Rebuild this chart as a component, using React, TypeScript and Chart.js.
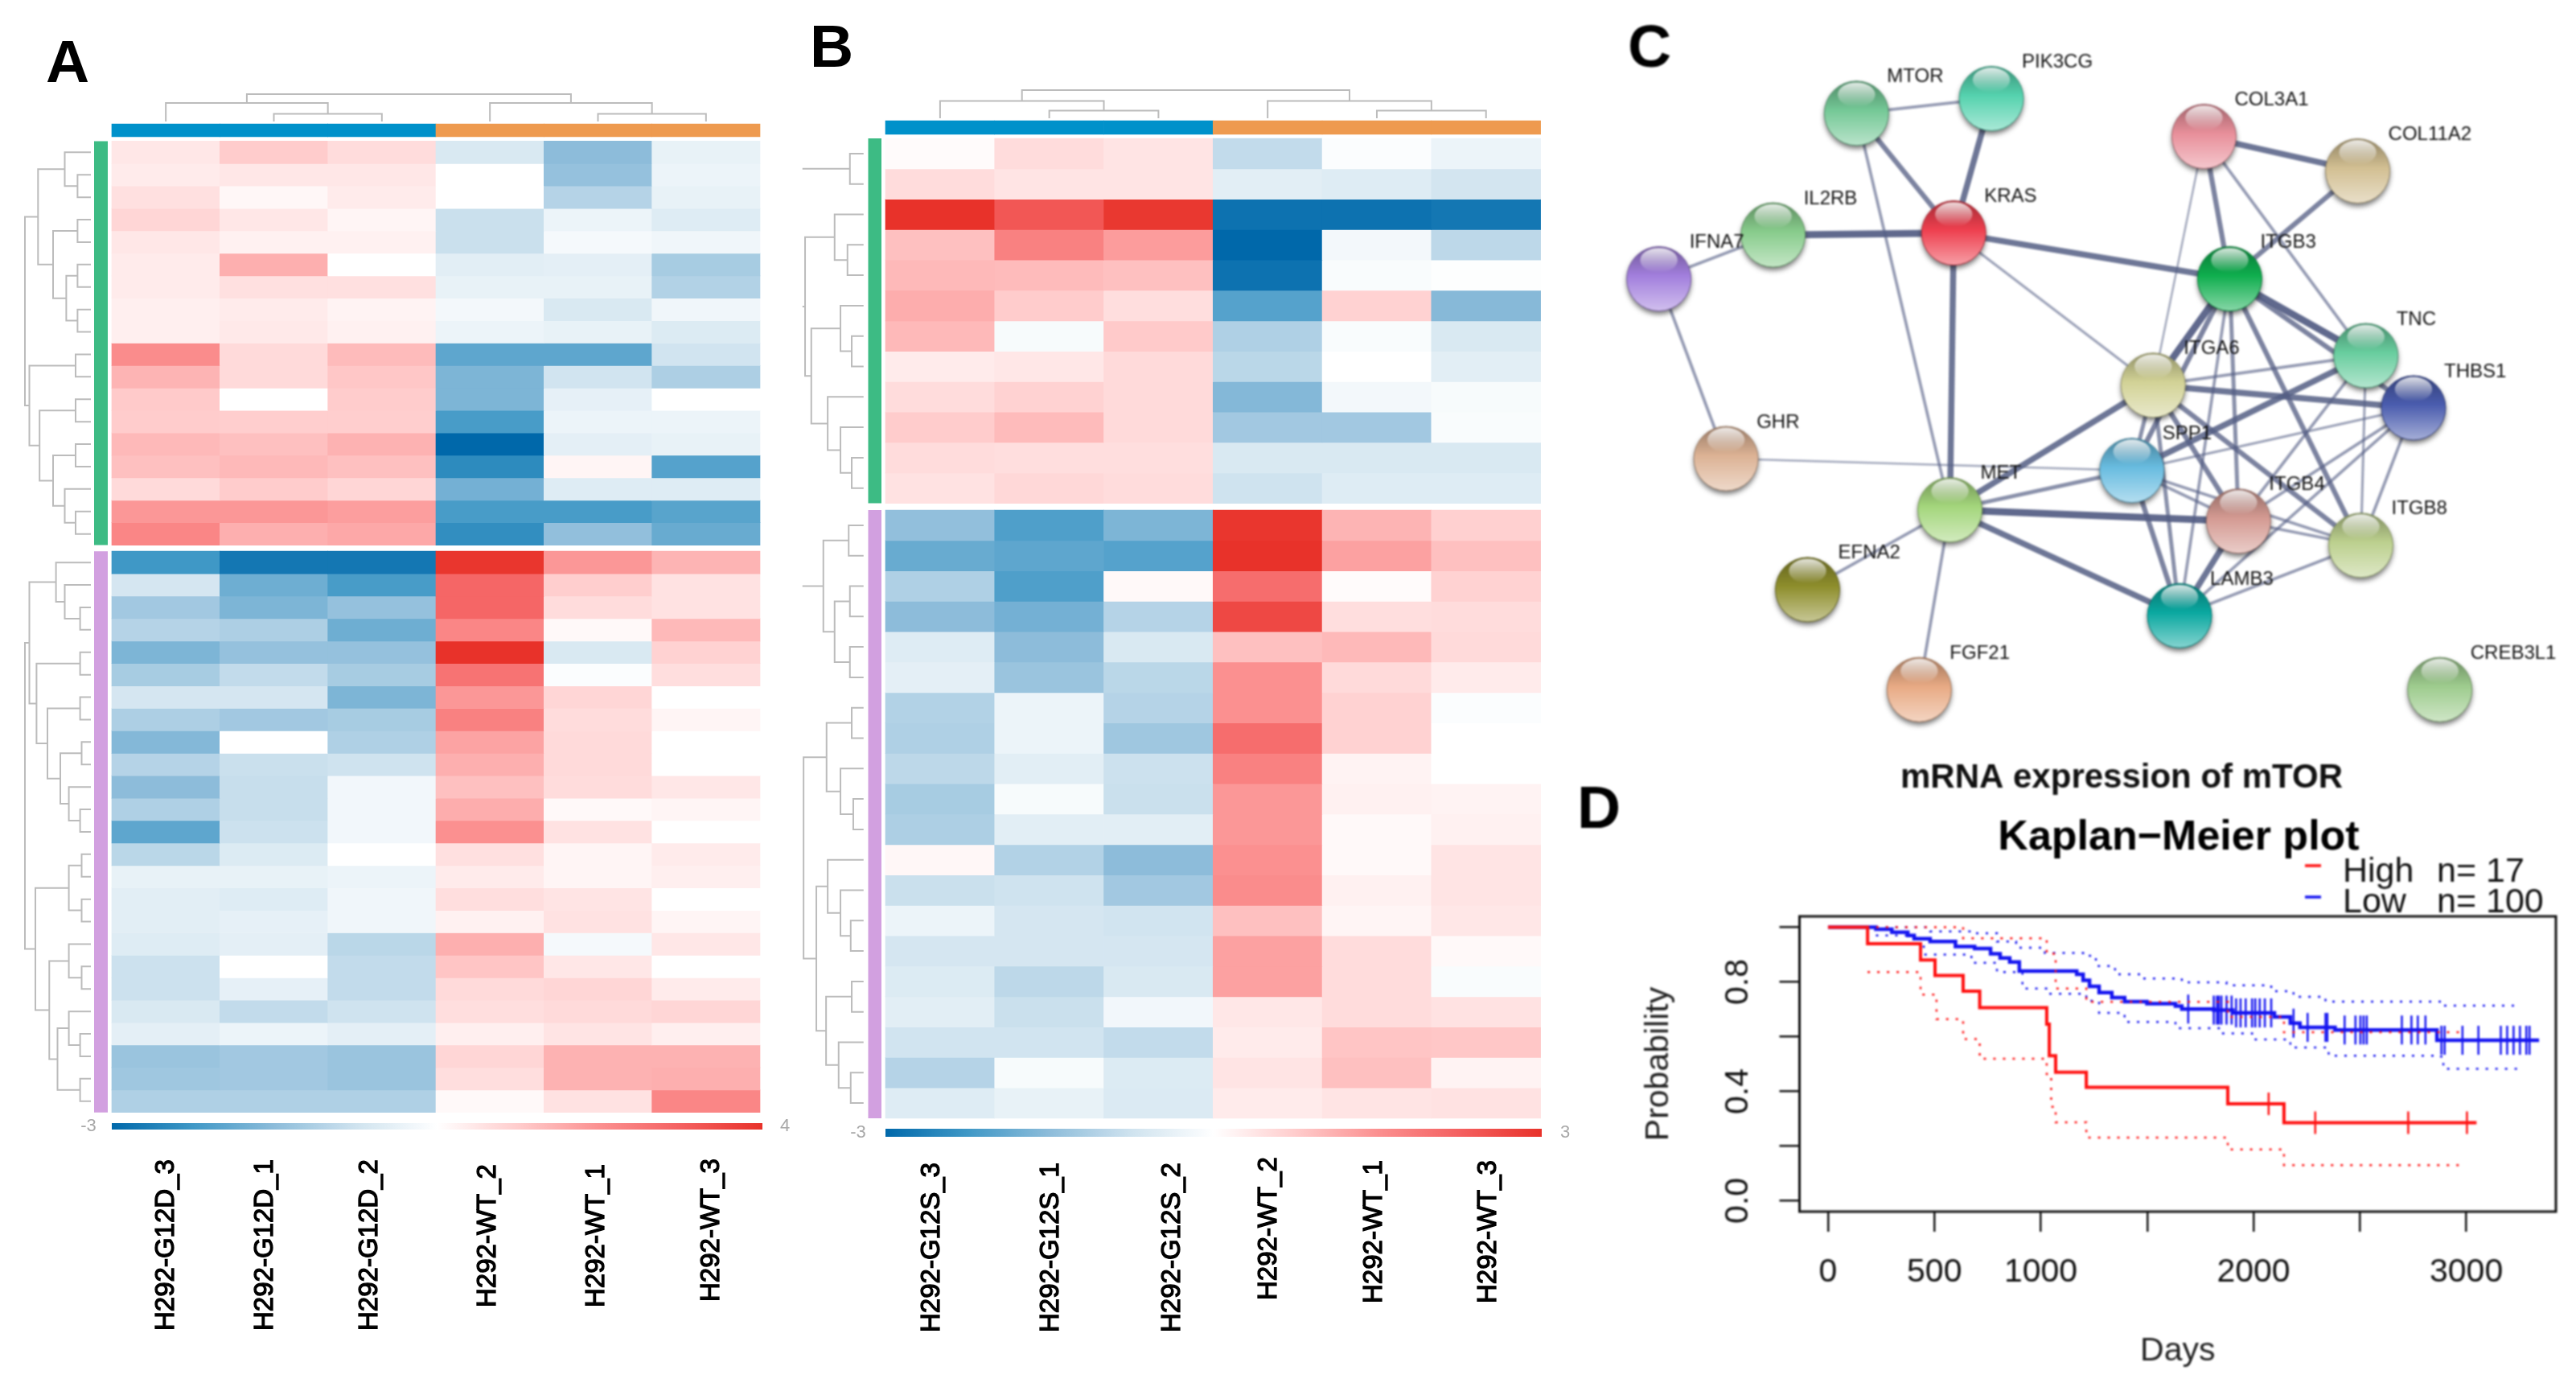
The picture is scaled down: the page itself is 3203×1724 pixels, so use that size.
import React, { useEffect, useRef } from "react";
import { Chart, registerables } from "chart.js";

Chart.register(...registerables);

const FONT = "'Liberation Sans', Arial, sans-serif";
const PAGE_W = 3203;
const PAGE_H = 1724;

// ---------- Panel A data (colour position, -1 deep blue ... 1 deep red) ----------
const columnsA = ["H292-G12D_3", "H292-G12D_1", "H292-G12D_2", "H292-WT_2", "H292-WT_1", "H292-WT_3"];
const rowsATop = [
  [0.12, 0.25, 0.17, -0.2, -0.5, -0.12],
  [0.1, 0.12, 0.12, 0, -0.47, -0.1],
  [0.15, 0.04, 0.1, 0, -0.35, -0.12],
  [0.2, 0.12, 0.05, -0.27, -0.1, -0.17],
  [0.12, 0.07, 0.07, -0.27, -0.05, -0.08],
  [0.1, 0.37, 0, -0.15, -0.14, -0.4],
  [0.1, 0.15, 0.15, -0.12, -0.12, -0.36],
  [0.08, 0.1, 0.06, -0.06, -0.2, -0.08],
  [0.08, 0.11, 0.07, -0.1, -0.12, -0.18],
  [0.52, 0.18, 0.32, -0.65, -0.65, -0.24],
  [0.35, 0.18, 0.27, -0.55, -0.24, -0.38],
  [0.26, 0, 0.25, -0.55, -0.13, 0],
  [0.25, 0.24, 0.24, -0.72, -0.1, -0.1],
  [0.33, 0.3, 0.36, -1, -0.14, -0.12],
  [0.3, 0.33, 0.3, -0.82, 0.05, -0.68],
  [0.18, 0.25, 0.2, -0.58, -0.17, -0.17],
  [0.47, 0.47, 0.44, -0.72, -0.72, -0.67],
  [0.55, 0.37, 0.4, -0.8, -0.48, -0.62],
];
const rowsABottom = [
  [-0.75, -0.92, -0.92, 0.98, 0.47, 0.35],
  [-0.22, -0.6, -0.72, 0.72, 0.24, 0.14],
  [-0.42, -0.55, -0.47, 0.72, 0.17, 0.14],
  [-0.35, -0.38, -0.6, 0.55, 0.03, 0.33],
  [-0.55, -0.47, -0.47, 1, -0.2, 0.22],
  [-0.4, -0.3, -0.4, 0.65, -0.02, 0.16],
  [-0.22, -0.22, -0.55, 0.47, 0.2, 0],
  [-0.38, -0.42, -0.4, 0.58, 0.17, 0.05],
  [-0.53, 0, -0.37, 0.42, 0.18, 0],
  [-0.35, -0.27, -0.25, 0.37, 0.18, 0],
  [-0.5, -0.28, -0.07, 0.3, 0.17, 0.12],
  [-0.37, -0.28, -0.07, 0.38, 0.03, 0.05],
  [-0.65, -0.26, -0.07, 0.5, 0.14, 0],
  [-0.33, -0.18, 0, 0.15, 0.05, 0.1],
  [-0.12, -0.12, -0.1, 0.1, 0.05, 0.08],
  [-0.15, -0.17, -0.08, 0.16, 0.13, 0],
  [-0.15, -0.13, -0.08, 0.07, 0.14, 0.05],
  [-0.17, -0.14, -0.33, 0.37, -0.05, 0.12],
  [-0.26, 0, -0.3, 0.28, 0.12, 0],
  [-0.26, -0.13, -0.3, 0.18, 0.2, 0.1],
  [-0.2, -0.3, -0.25, 0.16, 0.18, 0.2],
  [-0.14, -0.1, -0.14, 0.08, 0.13, 0.08],
  [-0.45, -0.42, -0.45, 0.2, 0.36, 0.36],
  [-0.43, -0.42, -0.45, 0.16, 0.36, 0.37],
  [-0.37, -0.37, -0.37, 0.03, 0.14, 0.55],
];
// dendrograms: [height, childA, childB]; a leaf is a row number within its block
const treeATop = [82,
  [65.7, [32.5, 1, [16.6, 2, 3]], [47, [16.6, 4, 5], [30.6, [16.6, 6, 7], [16.6, 8, 9]]]],
  [76.5, [19, 10, 11], [63.8, [19, 12, 13], [47, [19, 14, 15], [32.5, 16, [19, 17, 18]]]]],
];
const treeABottom = [82,
  [76.5, [43.4, 1, [32.5, 2, [13.4, 3, 4]]], [67.6, [13.4, 5, 6], [54, [13.4, 7, 8], [38, [11.5, 9, 10], [27.4, 11, [13.4, 12, 13]]]]]],
  [69, [27.4, [11.5, 14, 15], [11.5, 16, 17]], [51.7, [27.4, 18, [11.5, 19, 20]], [41.5, [27.4, 21, [13.4, 22, 23]], [13.4, 24, 25]]]],
];
const treeAColumns = [34, [23, 0.5, [9.5, 1.5, 2.5]], [23, 3.5, [9.5, 4.5, 5.5]]];

// ---------- Panel B data ----------
const columnsB = ["H292-G12S_3", "H292-G12S_1", "H292-G12S_2", "H292-WT_2", "H292-WT_1", "H292-WT_3"];
const rowsBTop = [
  [0.02, 0.17, 0.13, -0.3, -0.02, -0.1],
  [0.17, 0.13, 0.13, -0.15, -0.17, -0.23],
  [1, 0.8, 0.97, -0.95, -0.95, -0.92],
  [0.3, 0.58, 0.45, -1, -0.06, -0.32],
  [0.33, 0.32, 0.3, -0.95, -0.03, -0.01],
  [0.38, 0.25, 0.16, -0.68, 0.22, -0.52],
  [0.33, -0.04, 0.26, -0.37, -0.03, -0.2],
  [0.1, 0.12, 0.18, -0.33, 0, -0.15],
  [0.17, 0.22, 0.18, -0.53, -0.06, -0.04],
  [0.25, 0.32, 0.18, -0.42, -0.42, -0.03],
  [0.17, 0.16, 0.16, -0.2, -0.2, -0.2],
  [0.14, 0.19, 0.17, -0.25, -0.17, -0.17],
];
const rowsBBottom = [
  [-0.48, -0.7, -0.55, 0.98, 0.35, 0.23],
  [-0.62, -0.65, -0.68, 1, 0.43, 0.3],
  [-0.37, -0.7, 0.03, 0.68, 0.02, 0.22],
  [-0.5, -0.58, -0.35, 0.88, 0.16, 0.17],
  [-0.17, -0.5, -0.2, 0.3, 0.33, 0.18],
  [-0.14, -0.45, -0.33, 0.5, 0.18, 0.1],
  [-0.36, -0.1, -0.35, 0.5, 0.22, -0.02],
  [-0.37, -0.1, -0.43, 0.68, 0.22, 0],
  [-0.32, -0.15, -0.26, 0.58, 0.06, 0],
  [-0.4, -0.04, -0.27, 0.47, 0.07, 0.06],
  [-0.38, -0.15, -0.15, 0.47, 0.03, 0.07],
  [0.04, -0.36, -0.5, 0.5, 0.03, 0.13],
  [-0.27, -0.25, -0.42, 0.52, 0.07, 0.13],
  [-0.1, -0.22, -0.24, 0.3, 0.05, 0.12],
  [-0.22, -0.22, -0.22, 0.43, 0.17, 0.03],
  [-0.18, -0.32, -0.2, 0.43, 0.17, -0.03],
  [-0.15, -0.27, -0.07, 0.12, 0.17, 0.14],
  [-0.24, -0.24, -0.3, 0.1, 0.28, 0.27],
  [-0.35, -0.04, -0.18, 0.13, 0.3, 0.06],
  [-0.17, -0.12, -0.19, 0.1, 0.13, 0.14],
];
const treesBTop = [
  [76, [17, 1, 2]],
  [76, [72.7, [36, 3, [20, 4, 5]], [65, [28.7, 6, [14.7, 7, 8]], [44.6, 9, [28.7, 10, [14.7, 11, 12]]]]]],
];
const treesBBottom = [
  [76, [50, [18.5, 1, 2], [36, [17, 3, 4], [17, 5, 6]]]],
  [74.6, [46, [14.7, 7, 8], [28.7, 9, [12.8, 10, 11]]], [58.7, [44.6, 12, [28.7, 13, [16, 14, 15]]], [46.6, [14.7, 16, 17], [31, 18, [16, 19, 20]]]]],
];
const treeBColumns = [35, [21.5, 0.5, [9.5, 1.5, 2.5]], [21.5, 3.5, [9.5, 4.5, 5.5]]];

// ---------- Panel C data (network layout units) ----------
const geneNames = ["MTOR", "PIK3CG", "COL3A1", "COL11A2", "IL2RB", "KRAS", "IFNA7", "ITGB3", "TNC", "ITGA6", "THBS1", "GHR", "SPP1", "MET", "ITGB4", "ITGB8", "EFNA2", "LAMB3", "FGF21", "CREB3L1"];
const geneX = [421, 636, 975, 1220, 288, 576, 106, 1016, 1233, 894, 1309, 213, 860, 570, 1030, 1225, 343, 936, 521, 1351];
const geneY = [230, 200, 277, 347, 477, 473, 566, 566, 722, 782, 828, 931, 955, 1035, 1058, 1107, 1197, 1250, 1400, 1400];
const geneColours = ["#74c896", "#55d2ae", "#e88f9a", "#d2bf92", "#88cc8c", "#ee3f4e", "#a27fdd", "#0fae4e", "#68cd9e", "#d2d296", "#4a5cae", "#dcb294", "#68bce0", "#a4d67c", "#d49a92", "#bcd08e", "#8e8e2c", "#0aa8a0", "#e8aa84", "#9ecc8e"];
const linkFrom = ["MTOR", "MTOR", "PIK3CG", "MTOR", "IL2RB", "IL2RB", "KRAS", "KRAS", "KRAS", "IFNA7", "GHR", "COL3A1", "COL3A1", "COL3A1", "COL3A1", "COL11A2", "ITGB3", "ITGB3", "ITGB3", "ITGB3", "ITGB3", "ITGB3", "ITGB3", "TNC", "TNC", "TNC", "TNC", "ITGA6", "ITGA6", "ITGA6", "ITGA6", "ITGA6", "ITGA6", "THBS1", "THBS1", "THBS1", "THBS1", "SPP1", "SPP1", "SPP1", "SPP1", "MET", "MET", "MET", "MET", "ITGB4", "ITGB4", "ITGB8"];
const linkTo = ["PIK3CG", "KRAS", "KRAS", "MET", "KRAS", "IFNA7", "MET", "ITGB3", "ITGA6", "GHR", "SPP1", "COL11A2", "ITGB3", "ITGA6", "TNC", "ITGB3", "TNC", "THBS1", "ITGA6", "SPP1", "ITGB4", "ITGB8", "LAMB3", "ITGA6", "SPP1", "ITGB4", "ITGB8", "THBS1", "MET", "SPP1", "ITGB4", "ITGB8", "LAMB3", "SPP1", "ITGB4", "ITGB8", "LAMB3", "MET", "ITGB4", "ITGB8", "LAMB3", "ITGB4", "LAMB3", "EFNA2", "FGF21", "ITGB8", "LAMB3", "LAMB3"];
const linkScore = [3, 5, 6, 3, 7, 3, 6, 6, 2.5, 3, 2, 6, 5, 2, 3, 5, 7, 5, 7, 5, 4, 5, 3, 3, 6, 3, 2.5, 6, 6, 4, 5, 5, 4, 2.5, 3, 3, 3, 4, 3, 3, 5, 7, 6, 3, 3, 3, 6, 3];

// ---------- Panel D data ----------
const kmHighDays = [0, 186, 435, 503, 635, 713, 1028, 1040, 1070, 1214, 1879, 2143, 3048];
const kmHighProb = [1, 0.94, 0.88, 0.824, 0.766, 0.706, 0.646, 0.53, 0.47, 0.415, 0.354, 0.285, 0.285];
const kmHighUpperDays = [0, 635, 1028, 1070, 1214, 1879, 2143, 2985];
const kmHighUpperProb = [1, 0.96, 0.903, 0.776, 0.727, 0.672, 0.616, 0.616];
const kmHighLowerDays = [186, 435, 510, 635, 713, 1028, 1049, 1070, 1214, 1879, 2143, 2997];
const kmHighLowerProb = [0.836, 0.754, 0.664, 0.591, 0.519, 0.463, 0.343, 0.287, 0.231, 0.187, 0.13, 0.13];
const kmHighCensored = [2071, 2290, 2727, 3003];
const kmLowDays = [0, 225, 300, 375, 405, 480, 599, 689, 764, 809, 854, 899, 1169, 1199, 1229, 1274, 1334, 1394, 1499, 1633, 1663, 1813, 1903, 2098, 2173, 2218, 2383, 2862, 3342];
const kmLowProb = [1, 0.993, 0.982, 0.97, 0.958, 0.948, 0.93, 0.922, 0.903, 0.888, 0.873, 0.84, 0.828, 0.806, 0.784, 0.761, 0.743, 0.728, 0.721, 0.712, 0.701, 0.697, 0.687, 0.672, 0.649, 0.634, 0.624, 0.587, 0.587];
const kmLowUpperDays = [225, 480, 689, 794, 884, 1019, 1199, 1259, 1349, 1469, 1663, 1873, 2083, 2188, 2338, 2862, 2892, 3252];
const kmLowUpperProb = [1, 0.985, 0.978, 0.948, 0.925, 0.906, 0.896, 0.858, 0.828, 0.813, 0.799, 0.788, 0.766, 0.746, 0.728, 0.728, 0.713, 0.713];
const kmLowLowerDays = [225, 405, 450, 674, 794, 914, 1034, 1214, 1274, 1394, 1633, 1843, 1993, 2173, 2353, 2862, 2892, 3252];
const kmLowLowerProb = [0.97, 0.94, 0.9, 0.87, 0.836, 0.776, 0.757, 0.731, 0.687, 0.654, 0.631, 0.612, 0.59, 0.56, 0.53, 0.527, 0.482, 0.482];
const kmLowCensored = [1693, 1813, 1828, 1837, 1849, 1873, 1897, 1918, 1939, 1963, 1993, 2008, 2029, 2053, 2083, 2188, 2254, 2338, 2347, 2428, 2479, 2502, 2517, 2532, 2697, 2742, 2772, 2808, 2883, 2898, 2982, 3057, 3162, 3192, 3222, 3252, 3282, 3297];
const dayTicks = [0, 500, 1000, 1500, 2000, 2500, 3000];
const dayTickLabels = ["0", "500", "1000", "", "2000", "", "3000"];
const probTicks = [0, 0.2, 0.4, 0.6, 0.8, 1];
const probTickLabels = ["0.0", "", "0.4", "", "0.8", ""];

// ---------- colours ----------
const redStops = ["#ffffff", "#ffcccc", "#fb9090", "#f46060", "#e8322a"];
const blueStops = ["#ffffff", "#cfe3ef", "#8dbcda", "#3f98c6", "#0068aa"];
const hex = (c: string) => [1, 3, 5].map((i) => parseInt(c.slice(i, i + 2), 16));
function heatColour(v: number) {
  const stops = v >= 0 ? redStops : blueStops;
  const p = Math.min(1, Math.abs(v)) * (stops.length - 1);
  const i = Math.min(stops.length - 2, Math.floor(p));
  const a = hex(stops[i]);
  const b = hex(stops[i + 1]);
  const t = p - i;
  return `rgb(${a.map((n, k) => Math.round(n + (b[k] - n) * t)).join(",")})`;
}
function mix(c: string, target: number, t: number) {
  return `rgb(${hex(c).map((n) => Math.round(n + (target - n) * t)).join(",")})`;
}

function drawText(ctx: any, text: string, x: number, y: number, font: string, color: string, align = "center", baseline = "middle", rot = 0, heavy = 0) {
  ctx.save();
  ctx.translate(x, y);
  ctx.rotate(rot);
  ctx.font = font;
  ctx.fillStyle = color;
  ctx.textAlign = align;
  ctx.textBaseline = baseline;
  ctx.fillText(text, 0, 0);
  if (heavy > 0) {
    ctx.strokeStyle = color;
    ctx.lineWidth = heavy;
    ctx.strokeText(text, 0, 0);
  }
  ctx.restore();
}

function panelLetter(ctx: any, letter: string, x: number, baseline: number) {
  drawText(ctx, letter, x, baseline, `bold 75px ${FONT}`, "#000", "center", "alphabetic");
}

// Walk a dendrogram and give back polylines in (height, position) units.
function treeLines(tree: any, leafPos: (n: number) => number) {
  const lines: number[][][] = [];
  const walk = (node: any): { h: number; p: number } => {
    if (typeof node === "number") return { h: 0, p: leafPos(node) };
    const a = walk(node[1]);
    if (node.length === 2) {
      lines.push([[a.h, a.p], [node[0], a.p]]);
      return { h: node[0], p: a.p };
    }
    const b = walk(node[2]);
    lines.push([[a.h, a.p], [node[0], a.p], [node[0], b.p], [b.h, b.p]]);
    return { h: node[0], p: (a.p + b.p) / 2 };
  };
  walk(tree);
  return lines;
}

type HeatSpec = {
  letter: string; letterX: number; letterBase: number;
  columns: string[]; rowsTop: number[][]; rowsBottom: number[][];
  treesTop: any[]; treesBottom: any[]; treeColumns: any;
  left: number; right: number; top: number; bottom: number; rowH: number;
  leafGap: number; sideCentre: number; sideWidth: number;
  stripTop: number; stripBottom: number; columnTreeBase: number;
  barTop: number; barBottom: number; barRight: number;
  lowLabel: string; highLabel: string; lowX: number; highX: number;
  labelX: number[]; labelBase: number[];
};

function heatChart(canvas: HTMLCanvasElement, s: HeatSpec) {
  const H = s.bottom - s.top;
  const W = s.right - s.left;
  const nTop = s.rowsTop.length;
  const all = [...s.rowsTop, ...s.rowsBottom];
  const gap = H / s.rowH - all.length;
  const rowStart = (i: number) => (i < nTop ? i : i + gap);
  const datasets: any[] = all.map((row, i) => ({
    type: "bar", xAxisID: "x", yAxisID: "y", grouped: false, barPercentage: 1, categoryPercentage: 1,
    borderWidth: 0, clip: false, order: 5,
    data: row.map(() => [rowStart(i), rowStart(i) + 1]),
    backgroundColor: row.map(heatColour),
  }));
  const groupColours = ["#0091ca", "#0091ca", "#0091ca", "#ee9a4f", "#ee9a4f", "#ee9a4f"];
  datasets.push({
    type: "bar", xAxisID: "x", yAxisID: "y", grouped: false, barPercentage: 1, categoryPercentage: 1,
    borderWidth: 0, clip: false,
    data: s.columns.map(() => [(s.stripTop - s.top) / s.rowH, (s.stripBottom - s.top) / s.rowH]),
    backgroundColor: groupColours,
  });
  const lineDs = (pts: any[], x: string, y: string, color = "#bcbcbc", w = 2) => ({
    type: "scatter", showLine: true, xAxisID: x, yAxisID: y, data: pts, borderColor: color, borderWidth: w,
    pointRadius: 0, clip: false, borderCapStyle: "butt",
  });
  // side annotation strips
  datasets.push(lineDs([{ x: s.sideCentre - s.left, y: 0 }, { x: s.sideCentre - s.left, y: nTop }], "dx", "y", "#3dbb84", s.sideWidth));
  datasets.push(lineDs([{ x: s.sideCentre - s.left, y: nTop + gap }, { x: s.sideCentre - s.left, y: all.length + gap }], "dx", "y", "#d2a0e0", s.sideWidth));
  // row dendrograms
  const addRows = (trees: any[], offset: number) => {
    trees.forEach((t) => {
      treeLines(t, (n) => offset + n - 0.5).forEach((ln) => {
        datasets.push(lineDs(ln.map(([h, p]) => ({ x: -(s.leafGap + h), y: p })), "dx", "y"));
      });
    });
  };
  addRows(s.treesTop, 0);
  addRows(s.treesBottom, nTop + gap);
  // column dendrogram
  treeLines(s.treeColumns, (n) => n).forEach((ln) => {
    datasets.push(lineDs(ln.map(([h, p]) => ({ x: p, y: H + (s.top - s.columnTreeBase) + h })), "cx", "dy"));
  });

  const labelPlugin = {
    id: "heatText",
    afterDatasetsDraw(chart: any) {
      const ctx = chart.ctx;
      panelLetter(ctx, s.letter, s.letterX, s.letterBase);
      const g = ctx.createLinearGradient(s.left, 0, s.barRight, 0);
      for (let i = 0; i <= 40; i++) g.addColorStop(i / 40, heatColour(i / 20 - 1));
      ctx.fillStyle = g;
      ctx.fillRect(s.left, s.barTop, s.barRight - s.left, s.barBottom - s.barTop);
      const my = (s.barTop + s.barBottom) / 2;
      drawText(ctx, s.lowLabel, s.lowX, my, `22px ${FONT}`, "#a8a8a8");
      drawText(ctx, s.highLabel, s.highX, my, `22px ${FONT}`, "#a8a8a8");
      s.columns.forEach((name, i) => {
        drawText(ctx, name, s.labelX[i] + 2, s.labelBase[i], `33px ${FONT}`, "#000", "left", "middle", -Math.PI / 2, 1.3);
      });
    },
  };

  return new Chart(canvas, {
    type: "bar",
    data: { labels: s.columns, datasets },
    options: {
      animation: false, responsive: false, devicePixelRatio: 1,
      layout: { padding: { left: s.left, top: s.top, right: PAGE_W - s.right, bottom: PAGE_H - s.bottom } },
      plugins: { legend: { display: false }, tooltip: { enabled: false } },
      scales: {
        x: { type: "category", display: false, offset: true },
        y: { type: "linear", display: false, min: 0, max: H / s.rowH, reverse: true },
        dx: { type: "linear", axis: "x", display: false, min: 0, max: W, offset: false, grid: { offset: false } },
        cx: { type: "linear", axis: "x", display: false, min: 0, max: 6, offset: false, grid: { offset: false } },
        dy: { type: "linear", axis: "y", display: false, min: 0, max: H },
      },
    } as any,
    plugins: [labelPlugin],
  } as any);
}

function networkChart(canvas: HTMLCanvasElement) {
  const idx = (n: string) => geneNames.indexOf(n);
  const datasets: any[] = linkFrom.map((from, i) => {
    const w = linkScore[i];
    const a = 0.38 + (w / 7) * 0.55;
    return {
      showLine: true, pointRadius: 0, borderWidth: w * 1.25, borderColor: `rgba(84,94,132,${a.toFixed(2)})`,
      data: [from, linkTo[i]].map((n) => ({ x: geneX[idx(n)], y: geneY[idx(n)] })),
    };
  });
  datasets.push({ label: "genes", showLine: false, pointRadius: 0, data: geneX.map((x, i) => ({ x, y: geneY[i] })) });
  const spheres = {
    id: "spheres",
    afterDatasetsDraw(chart: any) {
      const ctx = chart.ctx;
      const pts = chart.getDatasetMeta(chart.data.datasets.length - 1).data;
      pts.forEach((p: any, i: number) => {
        const c = geneColours[i];
        const r = 40;
        ctx.save();
        ctx.shadowColor = "rgba(0,0,0,0.55)";
        ctx.shadowBlur = 6;
        ctx.shadowOffsetY = 4;
        const g = ctx.createLinearGradient(0, p.y - r, 0, p.y + r);
        g.addColorStop(0, mix(c, 0, 0.32));
        g.addColorStop(0.45, c);
        g.addColorStop(1, mix(c, 255, 0.5));
        ctx.fillStyle = g;
        ctx.beginPath();
        ctx.arc(p.x, p.y, r, 0, Math.PI * 2);
        ctx.fill();
        ctx.restore();
        const h = ctx.createLinearGradient(0, p.y - r + 3, 0, p.y - r * 0.2);
        h.addColorStop(0, "rgba(255,255,255,0.8)");
        h.addColorStop(1, "rgba(255,255,255,0)");
        ctx.fillStyle = h;
        ctx.beginPath();
        ctx.ellipse(p.x, p.y - r * 0.58, r * 0.58, r * 0.38, 0, 0, Math.PI * 2);
        ctx.fill();
        ctx.strokeStyle = mix(c, 0, 0.3);
        ctx.lineWidth = 1;
        ctx.beginPath();
        ctx.arc(p.x, p.y, r, 0, Math.PI * 2);
        ctx.stroke();
      });
      pts.forEach((p: any, i: number) => {
        drawText(ctx, geneNames[i], p.x + 38, p.y - 45, `24px ${FONT}`, "#111", "left");
      });
      panelLetter(ctx, "C", 2051, 83);
    },
  };
  return new Chart(canvas, {
    type: "scatter",
    data: { datasets },
    options: {
      animation: false, responsive: false, devicePixelRatio: 1,
      layout: { padding: { left: 1980, top: 0, right: 0, bottom: PAGE_H - 960 } },
      plugins: { legend: { display: false }, tooltip: { enabled: false } },
      scales: {
        x: { type: "linear", display: false, min: 0, max: 1568 },
        y: { type: "linear", display: false, min: 0, max: 1568, reverse: true },
      },
    } as any,
    plugins: [spheres],
  } as any);
}

const pairs = (xs: number[], ys: number[]) => xs.map((x, i) => ({ x, y: ys[i] }));
function probAt(days: number[], prob: number[], t: number) {
  let p = prob[0];
  for (let i = 0; i < days.length; i++) if (days[i] <= t) p = prob[i];
  return p;
}

function survivalChart(canvas: HTMLCanvasElement) {
  const RED = "#ff1010";
  const BLUE = "#1414f0";
  const curve = (xs: number[], ys: number[], color: string, w: number) => ({
    data: pairs(xs, ys), borderColor: color, borderWidth: w, pointRadius: 0, stepped: true,
  });
  const ci = (xs: number[], ys: number[], color: string) => ({
    data: pairs(xs, ys), borderColor: color, borderWidth: 2.5, pointRadius: 0, stepped: true, borderDash: [3, 9],
  });
  const censored = (ts: number[], xs: number[], ys: number[], color: string, r: number) => ({
    showLine: false, data: ts.map((t) => ({ x: t, y: probAt(xs, ys, t) })),
    pointStyle: "line", pointRotation: 90, pointRadius: r, pointBorderColor: color, pointBorderWidth: 2.5,
    pointBackgroundColor: color,
  });
  const datasets: any[] = [
    ci(kmHighUpperDays, kmHighUpperProb, RED),
    ci(kmHighLowerDays, kmHighLowerProb, RED),
    curve(kmHighDays, kmHighProb, RED, 4),
    censored(kmHighCensored, kmHighDays, kmHighProb, RED, 14),
    ci(kmLowUpperDays, kmLowUpperProb, BLUE),
    ci(kmLowLowerDays, kmLowLowerProb, BLUE),
    curve(kmLowDays, kmLowProb, BLUE, 4.5),
    censored(kmLowCensored, kmLowDays, kmLowProb, BLUE, 18),
  ];
  const texts = {
    id: "kmText",
    afterDatasetsDraw(chart: any) {
      const ctx = chart.ctx;
      const a = chart.chartArea;
      ctx.strokeStyle = "#111";
      ctx.lineWidth = 3;
      ctx.strokeRect(a.left, a.top, a.right - a.left, a.bottom - a.top);
      panelLetter(ctx, "D", 1988, 1029);
      drawText(ctx, "mRNA expression of mTOR", 2638, 967, `bold 42px ${FONT}`, "#111");
      drawText(ctx, "Kaplan\u2212Meier plot", 2709, 1042, `bold 52px ${FONT}`, "#000");
      const lg = `43px ${FONT}`;
      ctx.lineWidth = 3.5;
      ctx.strokeStyle = RED;
      ctx.beginPath(); ctx.moveTo(2866, 1076); ctx.lineTo(2886, 1076); ctx.stroke();
      ctx.strokeStyle = BLUE;
      ctx.beginPath(); ctx.moveTo(2866, 1115); ctx.lineTo(2886, 1115); ctx.stroke();
      drawText(ctx, "High", 2913, 1084, lg, "#111", "left");
      drawText(ctx, "n= 17", 3030, 1084, lg, "#111", "left");
      drawText(ctx, "Low", 2913, 1122, lg, "#111", "left");
      drawText(ctx, "n= 100", 3030, 1122, lg, "#111", "left");
    },
  };
  const axisFont = { family: FONT, size: 41 };
  return new Chart(canvas, {
    type: "line",
    data: { datasets },
    options: {
      animation: false, responsive: false, devicePixelRatio: 1,
      layout: { padding: { left: 2020, top: 1139, right: 25, bottom: 0 } },
      plugins: { legend: { display: false }, tooltip: { enabled: false } },
      scales: {
        x: {
          type: "linear", min: -134, max: 3421,
          afterFit: (sc: any) => { sc.height = 218; },
          afterBuildTicks: (sc: any) => { sc.ticks = dayTicks.map((value) => ({ value })); },
          border: { display: false },
          grid: { drawOnChartArea: false, drawTicks: true, tickLength: 25, color: "#111", lineWidth: 2.5 },
          ticks: {
            autoSkip: false, maxRotation: 0, minRotation: 0, padding: 26,
            color: "#111", font: axisFont,
            callback: (_v: number, i: number) => dayTickLabels[i],
          },
          title: { display: true, text: "Days", color: "#222", font: axisFont, padding: { top: 0, bottom: 20 } },
        },
        y: {
          type: "linear", min: -0.04, max: 1.04,
          afterFit: (sc: any) => { sc.width = 217.5; },
          afterBuildTicks: (sc: any) => { sc.ticks = probTicks.map((value) => ({ value })); },
          border: { display: false },
          grid: { drawOnChartArea: false, drawTicks: true, tickLength: 25, color: "#111", lineWidth: 2.5 },
          ticks: {
            autoSkip: false, minRotation: 90, maxRotation: 90, padding: 22,
            crossAlign: "center", color: "#111", font: axisFont,
            callback: (_v: number, i: number) => probTickLabels[i],
          },
          title: { display: true, text: "Probability", color: "#222", font: axisFont, padding: { top: 18, bottom: 0 } },
        },
      },
    } as any,
    plugins: [texts],
  } as any);
}

const specA: HeatSpec = {
  letter: "A", letterX: 84, letterBase: 102,
  columns: columnsA, rowsTop: rowsATop, rowsBottom: rowsABottom,
  treesTop: [treeATop], treesBottom: [treeABottom], treeColumns: treeAColumns,
  left: 139, right: 945, top: 175.4, bottom: 1382.7, rowH: 27.9,
  leafGap: 26, sideCentre: 125.5, sideWidth: 17,
  stripTop: 154, stripBottom: 170, columnTreeBase: 151,
  barTop: 1396, barBottom: 1404, barRight: 948,
  lowLabel: "-3", highLabel: "4", lowX: 110, highX: 976,
  labelX: [205, 328, 458, 605, 740, 883],
  labelBase: [1654, 1654, 1654, 1625, 1625, 1618],
};
const specB: HeatSpec = {
  letter: "B", letterX: 1034, letterBase: 82.6,
  columns: columnsB, rowsTop: rowsBTop, rowsBottom: rowsBBottom,
  treesTop: treesBTop, treesBottom: treesBBottom, treeColumns: treeBColumns,
  left: 1101, right: 1915.6, top: 172, bottom: 1390, rowH: 37.8,
  leafGap: 27.25, sideCentre: 1087.75, sideWidth: 16.5,
  stripTop: 150, stripBottom: 167, columnTreeBase: 147,
  barTop: 1403, barBottom: 1413, barRight: 1917,
  lowLabel: "-3", highLabel: "3", lowX: 1067, highX: 1946,
  labelX: [1157, 1305, 1456, 1576, 1707, 1849],
  labelBase: [1656, 1656, 1656, 1616, 1620, 1620],
};

const canvasStyle = (blur: number): React.CSSProperties => ({
  position: "absolute", left: 0, top: 0, width: PAGE_W, height: PAGE_H, filter: `blur(${blur}px)`,
});

export default function App() {
  const a = useRef<HTMLCanvasElement>(null);
  const b = useRef<HTMLCanvasElement>(null);
  const c = useRef<HTMLCanvasElement>(null);
  const d = useRef<HTMLCanvasElement>(null);
  useEffect(() => {
    Chart.defaults.font.family = FONT;
    const charts = [
      heatChart(a.current!, specA),
      heatChart(b.current!, specB),
      networkChart(c.current!),
      survivalChart(d.current!),
    ];
    return () => charts.forEach((ch) => ch.destroy());
  }, []);
  return (
    <div style={{ position: "absolute", left: 0, top: 0, width: PAGE_W, height: PAGE_H, background: "#fff", overflow: "hidden" }}>
      <canvas ref={a} width={PAGE_W} height={PAGE_H} style={canvasStyle(0.7)} />
      <canvas ref={b} width={PAGE_W} height={PAGE_H} style={canvasStyle(0.7)} />
      <canvas ref={c} width={PAGE_W} height={PAGE_H} style={canvasStyle(0.9)} />
      <canvas ref={d} width={PAGE_W} height={PAGE_H} style={canvasStyle(0.9)} />
    </div>
  );
}
